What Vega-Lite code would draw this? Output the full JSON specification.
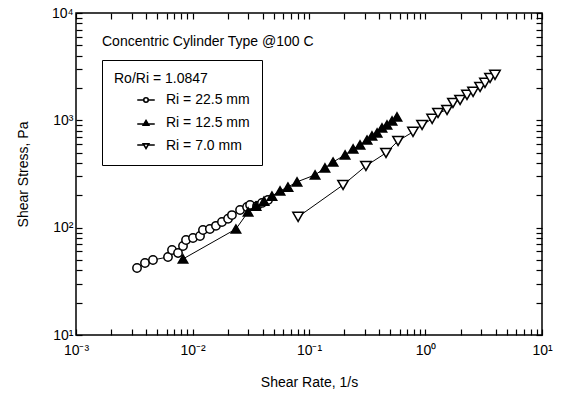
{
  "$schema": "https://vega.github.io/schema/vega-lite/v6.json",
  "width": 466,
  "height": 322,
  "autosize": {"type": "none"},
  "padding": {"left": 76, "top": 13, "right": 19, "bottom": 59},
  "background": "white",
  "config": {
    "font": "Liberation Sans",
    "view": {"stroke": "black", "strokeWidth": 1.5},
    "axis": {"grid": false, "domain": false}
  },
  "title": {
    "text": "Concentric Cylinder Type @100 C",
    "anchor": "start",
    "frame": "group",
    "orient": "top",
    "offset": -43,
    "dx": 26,
    "fontSize": 14,
    "fontWeight": "normal",
    "color": "black"
  },
  "datasets": {
    "pts": [
      {"rate": 0.00334, "stress": 42.1, "series": "Ri = 22.5 mm"},
      {"rate": 0.00391, "stress": 46.9, "series": "Ri = 22.5 mm"},
      {"rate": 0.00458, "stress": 50.0, "series": "Ri = 22.5 mm"},
      {"rate": 0.00616, "stress": 53.3, "series": "Ri = 22.5 mm"},
      {"rate": 0.00667, "stress": 62.0, "series": "Ri = 22.5 mm"},
      {"rate": 0.00751, "stress": 58.1, "series": "Ri = 22.5 mm"},
      {"rate": 0.00829, "stress": 67.5, "series": "Ri = 22.5 mm"},
      {"rate": 0.0088, "stress": 76.8, "series": "Ri = 22.5 mm"},
      {"rate": 0.0101, "stress": 80.2, "series": "Ri = 22.5 mm"},
      {"rate": 0.0116, "stress": 83.7, "series": "Ri = 22.5 mm"},
      {"rate": 0.0123, "stress": 95.2, "series": "Ri = 22.5 mm"},
      {"rate": 0.0141, "stress": 97.2, "series": "Ri = 22.5 mm"},
      {"rate": 0.0159, "stress": 104, "series": "Ri = 22.5 mm"},
      {"rate": 0.0179, "stress": 113, "series": "Ri = 22.5 mm"},
      {"rate": 0.0202, "stress": 121, "series": "Ri = 22.5 mm"},
      {"rate": 0.0218, "stress": 131, "series": "Ri = 22.5 mm"},
      {"rate": 0.0256, "stress": 146, "series": "Ri = 22.5 mm"},
      {"rate": 0.0294, "stress": 156, "series": "Ri = 22.5 mm"},
      {"rate": 0.0312, "stress": 163, "series": "Ri = 22.5 mm"},
      {"rate": 0.0358, "stress": 159, "series": "Ri = 22.5 mm"},
      {"rate": 0.0395, "stress": 170, "series": "Ri = 22.5 mm"},
      {"rate": 0.0445, "stress": 181, "series": "Ri = 22.5 mm"},
      {"rate": 0.00829, "stress": 51.1, "series": "Ri = 12.5 mm"},
      {"rate": 0.0236, "stress": 97.2, "series": "Ri = 12.5 mm"},
      {"rate": 0.03, "stress": 140, "series": "Ri = 12.5 mm"},
      {"rate": 0.0351, "stress": 159, "series": "Ri = 12.5 mm"},
      {"rate": 0.0411, "stress": 177, "series": "Ri = 12.5 mm"},
      {"rate": 0.0481, "stress": 197, "series": "Ri = 12.5 mm"},
      {"rate": 0.0564, "stress": 220, "series": "Ri = 12.5 mm"},
      {"rate": 0.066, "stress": 239, "series": "Ri = 12.5 mm"},
      {"rate": 0.0789, "stress": 267, "series": "Ri = 12.5 mm"},
      {"rate": 0.1127, "stress": 310, "series": "Ri = 12.5 mm"},
      {"rate": 0.137, "stress": 360, "series": "Ri = 12.5 mm"},
      {"rate": 0.161, "stress": 409, "series": "Ri = 12.5 mm"},
      {"rate": 0.204, "stress": 476, "series": "Ri = 12.5 mm"},
      {"rate": 0.239, "stress": 541, "series": "Ri = 12.5 mm"},
      {"rate": 0.274, "stress": 590, "series": "Ri = 12.5 mm"},
      {"rate": 0.315, "stress": 656, "series": "Ri = 12.5 mm"},
      {"rate": 0.347, "stress": 716, "series": "Ri = 12.5 mm"},
      {"rate": 0.384, "stress": 764, "series": "Ri = 12.5 mm"},
      {"rate": 0.423, "stress": 850, "series": "Ri = 12.5 mm"},
      {"rate": 0.467, "stress": 906, "series": "Ri = 12.5 mm"},
      {"rate": 0.516, "stress": 987, "series": "Ri = 12.5 mm"},
      {"rate": 0.569, "stress": 1076, "series": "Ri = 12.5 mm"},
      {"rate": 0.0806, "stress": 126, "series": "Ri = 7.0 mm"},
      {"rate": 0.196, "stress": 250, "series": "Ri = 7.0 mm"},
      {"rate": 0.308, "stress": 376, "series": "Ri = 7.0 mm"},
      {"rate": 0.458, "stress": 497, "series": "Ri = 7.0 mm"},
      {"rate": 0.581, "stress": 643, "series": "Ri = 7.0 mm"},
      {"rate": 0.781, "stress": 780, "series": "Ri = 7.0 mm"},
      {"rate": 0.934, "stress": 906, "series": "Ri = 7.0 mm"},
      {"rate": 1.14, "stress": 1031, "series": "Ri = 7.0 mm"},
      {"rate": 1.28, "stress": 1172, "series": "Ri = 7.0 mm"},
      {"rate": 1.53, "stress": 1250, "series": "Ri = 7.0 mm"},
      {"rate": 1.72, "stress": 1453, "series": "Ri = 7.0 mm"},
      {"rate": 1.98, "stress": 1549, "series": "Ri = 7.0 mm"},
      {"rate": 2.27, "stress": 1726, "series": "Ri = 7.0 mm"},
      {"rate": 2.56, "stress": 1840, "series": "Ri = 7.0 mm"},
      {"rate": 2.94, "stress": 2047, "series": "Ri = 7.0 mm"},
      {"rate": 3.24, "stress": 2232, "series": "Ri = 7.0 mm"},
      {"rate": 3.58, "stress": 2484, "series": "Ri = 7.0 mm"},
      {"rate": 3.95, "stress": 2650, "series": "Ri = 7.0 mm"}
    ]
  },
  "data": {"name": "pts"},
  "resolve": {
    "scale": {"shape": "independent", "fill": "independent", "stroke": "independent"},
    "axis": {"x": "independent", "y": "independent"}
  },
  "layer": [
    {
      "mark": {"type": "line", "color": "black", "strokeWidth": 1},
      "encoding": {
        "x": {"field": "rate", "type": "quantitative", "scale": {"type": "log", "domain": [0.001, 10]}, "axis": null},
        "y": {"field": "stress", "type": "quantitative", "scale": {"type": "log", "domain": [10, 10000]}, "axis": null},
        "detail": {"field": "series"},
        "order": {"field": "rate"}
      }
    },
    {
      "mark": {"type": "point", "stroke": "black", "strokeWidth": 1.5, "opacity": 1, "fillOpacity": 1},
      "encoding": {
        "x": {
          "field": "rate", "type": "quantitative",
          "scale": {"type": "log", "domain": [0.001, 10]},
          "axis": {
            "orient": "bottom",
            "title": "Shear Rate, 1/s",
            "titleFontSize": 14, "titleFontWeight": "normal", "titleColor": "black", "titlePadding": 18,
            "values": [0.001,0.002,0.003,0.004,0.005,0.006,0.007,0.008,0.009,0.01,0.02,0.03,0.04,0.05,0.06,0.07,0.08,0.09,0.1,0.2,0.3,0.4,0.5,0.6,0.7,0.8,0.9,1,2,3,4,5,6,7,8,9,10],
            "labelExpr": "datum.value==0.001?'10⁻³':datum.value==0.01?'10⁻²':datum.value==0.1?'10⁻¹':datum.value==1?'10⁰':datum.value==10?'10¹':''",
            "labelFontSize": 14, "labelColor": "black", "labelOverlap": false, "labelBound": false, "labelFlush": false, "labelPadding": 14,
            "ticks": true, "tickColor": "black", "tickWidth": 1.2, "tickSize": -6
          }
        },
        "y": {
          "field": "stress", "type": "quantitative",
          "scale": {"type": "log", "domain": [10, 10000]},
          "axis": {
            "orient": "left",
            "title": "Shear Stress, Pa",
            "titleFontSize": 14, "titleFontWeight": "normal", "titleColor": "black", "titlePadding": 21,
            "values": [10,20,30,40,50,60,70,80,90,100,200,300,400,500,600,700,800,900,1000,2000,3000,4000,5000,6000,7000,8000,9000,10000],
            "labelExpr": "datum.value==10?'10¹':datum.value==100?'10²':datum.value==1000?'10³':datum.value==10000?'10⁴':''",
            "labelFontSize": 14, "labelColor": "black", "labelOverlap": false, "labelBound": false, "labelFlush": false, "labelPadding": 9,
            "ticks": true, "tickColor": "black", "tickWidth": 1.2, "tickSize": -6
          }
        },
        "shape": {
          "field": "series", "type": "nominal",
          "scale": {"domain": ["Ri = 22.5 mm", "Ri = 12.5 mm", "Ri = 7.0 mm"], "range": ["circle", "triangle-up", "triangle-down"]},
          "legend": null
        },
        "fill": {
          "field": "series", "type": "nominal",
          "scale": {"domain": ["Ri = 22.5 mm", "Ri = 12.5 mm", "Ri = 7.0 mm"], "range": ["white", "black", "white"]},
          "legend": null
        },
        "size": {
          "field": "series", "type": "nominal",
          "scale": {"domain": ["Ri = 22.5 mm", "Ri = 12.5 mm", "Ri = 7.0 mm"], "range": [70, 110, 100]},
          "legend": null
        }
      }
    },
    {
      "transform": [{"filter": "false"}],
      "mark": {"type": "point", "strokeWidth": 1.6, "opacity": 1, "fillOpacity": 1},
      "encoding": {
        "x": {
          "field": "rate", "type": "quantitative",
          "scale": {"type": "log", "domain": [0.001, 10]},
          "axis": {
            "orient": "top", "title": null, "labels": false, "ticks": true, "tickSize": -6, "tickColor": "black", "tickWidth": 1.2,
            "values": [0.001,0.002,0.003,0.004,0.005,0.006,0.007,0.008,0.009,0.01,0.02,0.03,0.04,0.05,0.06,0.07,0.08,0.09,0.1,0.2,0.3,0.4,0.5,0.6,0.7,0.8,0.9,1,2,3,4,5,6,7,8,9,10]
          }
        },
        "y": {
          "field": "stress", "type": "quantitative",
          "scale": {"type": "log", "domain": [10, 10000]},
          "axis": {
            "orient": "right", "title": null, "labels": false, "ticks": true, "tickSize": -6, "tickColor": "black", "tickWidth": 1.2,
            "values": [10,20,30,40,50,60,70,80,90,100,200,300,400,500,600,700,800,900,1000,2000,3000,4000,5000,6000,7000,8000,9000,10000]
          }
        },
        "shape": {
          "field": "series", "type": "nominal",
          "scale": {
            "domain": ["Ri = 22.5 mm", "Ri = 12.5 mm", "Ri = 7.0 mm"],
            "range": [
              "M-1.75,0H-0.45M0.45,0H1.75M0.45,0A0.45,0.45 0 1,1 -0.45,0A0.45,0.45 0 1,1 0.45,0Z",
              "M-1.75,0.2H-0.5M0.5,0.2H1.75M0,-0.5L0.55,0.42L-0.55,0.42Z",
              "M-1.75,-0.2H-0.5M0.5,-0.2H1.75M0,0.5L0.55,-0.42L-0.55,-0.42Z"
            ]
          },
          "legend": {
            "title": "\u00a0\u00a0Ro/Ri = 1.0847",
            "orient": "none", "legendX": 26, "legendY": 47,
            "strokeColor": "black", "padding": 12,
            "titleFontSize": 14, "titleFontWeight": "normal", "titleColor": "black", "titlePadding": 7,
            "labelFontSize": 14, "labelColor": "black", "labelOffset": 13,
            "labelExpr": "datum.label + '\u2003\u2003'",
            "symbolSize": 100, "symbolOffset": 25, "symbolStrokeWidth": 1.6,
            "rowPadding": 9
          }
        },
        "fill": {
          "field": "series", "type": "nominal",
          "scale": {"domain": ["Ri = 22.5 mm", "Ri = 12.5 mm", "Ri = 7.0 mm"], "range": ["white", "black", "white"]},
          "legend": {
            "title": "\u00a0\u00a0Ro/Ri = 1.0847",
            "orient": "none", "legendX": 26, "legendY": 47
          }
        },
        "stroke": {
          "field": "series", "type": "nominal",
          "scale": {"domain": ["Ri = 22.5 mm", "Ri = 12.5 mm", "Ri = 7.0 mm"], "range": ["black", "black", "black"]},
          "legend": {
            "title": "\u00a0\u00a0Ro/Ri = 1.0847",
            "orient": "none", "legendX": 26, "legendY": 47
          }
        }
      }
    }
  ]
}
